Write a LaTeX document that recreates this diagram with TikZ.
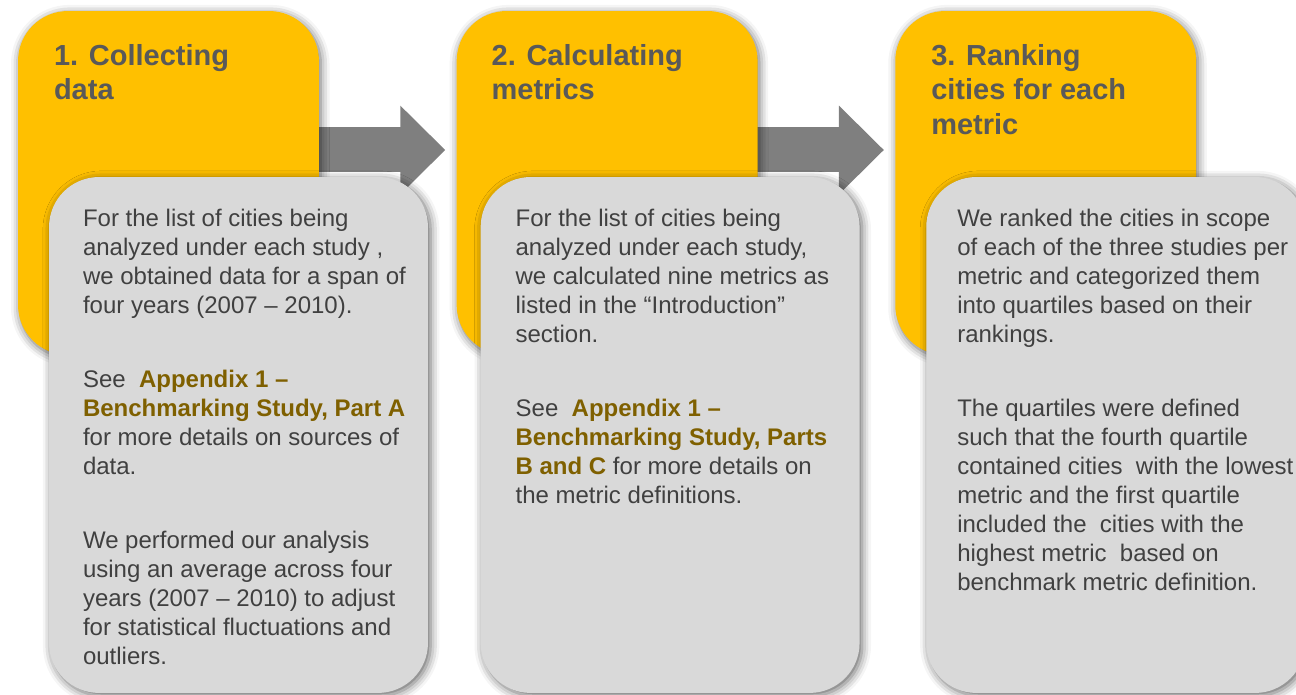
\documentclass[tikz,border=0pt]{standalone}
\usepackage{fontspec}
\setmainfont{Liberation Sans}
\usepackage{xcolor}
\definecolor{stageYellow}{HTML}{FFC000}
\definecolor{noteGrey}{HTML}{D9D9D9}
\definecolor{arrowGrey}{HTML}{7F7F7F}
\definecolor{titleGrey}{HTML}{595959}
\definecolor{bodyGrey}{HTML}{404040}
\definecolor{linkOlive}{HTML}{7F6000}
\usetikzlibrary{
  positioning,
  calc,
  arrows.meta,
  backgrounds,
  shadows.blur
}
\tikzstyle{stage}=[rounded corners=1cm, fill=stageYellow, minimum width=6.02cm, minimum height=6.88cm, inner sep=0pt,
  blur shadow={shadow xshift=1pt, shadow yshift=-1.5pt, shadow blur radius=5pt, shadow opacity=60}]
\tikzstyle{note}=[rounded corners=1cm, fill=noteGrey, minimum width=7.58cm, minimum height=10.32cm, inner sep=0pt, anchor=north west,
  blur shadow={shadow xshift=1.5pt, shadow yshift=-1.5pt, shadow blur radius=5pt, shadow opacity=60}]
\tikzstyle{stagetitle}=[anchor=north west, align=left, inner sep=0pt, text=titleGrey, font=\fontsize{16.5pt}{19.9pt}\selectfont\bfseries]
\tikzstyle{notetext}=[anchor=north west, align=left, inner sep=0pt, text=bodyGrey, font=\fontsize{13.66pt}{16.5pt}\selectfont]
\tikzstyle{flow}=[arrowGrey, line width=0.9cm, -{Triangle[length=0.9cm, width=1.72cm]}]
\newcommand{\applink}[1]{\textbf{\color{linkOlive}#1}}

\begin{document}
\begin{tikzpicture}[x=0.02cm, y=-0.02cm]
  \useasboundingbox (0,0) rectangle (1296,695);

  % 手順1
  \node[stage] (s1) at (168.5,183) {};
  \node[note] (n1) at ([shift={(31,166)}]s1.north west) {};
  \node[stagetitle] (t1) at ([shift={(36,33)}]s1.north west) {1. Collecting\\data};
  \node[notetext] (b1) at ([shift={(34,32.5)}]n1.north west) {For the list of cities being\\
    analyzed under each study ,\\
    we obtained data for a span of\\
    four years (2007 -- 2010).\\[25.5pt]
    See~ \applink{Appendix 1 --}\\
    \applink{Benchmarking Study, Part A}\\
    for more details on sources of\\
    data.\\[25.5pt]
    We performed our analysis\\
    using an average across four\\
    years (2007 -- 2010) to adjust\\
    for statistical fluctuations and\\
    outliers.};

  % 手順2
  \node[stage, right=2.74cm of s1] (s2) {};
  \node[note] (n2) at ([shift={(24,166)}]s2.north west) {};
  \node[stagetitle] (t2) at ([shift={(35,33)}]s2.north west) {2. Calculating\\metrics};
  \node[notetext] (b2) at ([shift={(35,32.5)}]n2.north west) {For the list of cities being\\
    analyzed under each study,\\
    we calculated nine metrics as\\
    listed in the ``Introduction''\\
    section.\\[25.5pt]
    See~ \applink{Appendix 1 --}\\
    \applink{Benchmarking Study, Parts}\\
    \applink{B and C} for more details on\\
    the metric definitions.};

  % 手順3
  \node[stage, right=2.74cm of s2] (s3) {};
  \node[note] (n3) at ([shift={(31,166)}]s3.north west) {};
  \node[stagetitle] (t3) at ([shift={(36,33)}]s3.north west) {3. Ranking\\cities for each\\metric};
  \node[notetext] (b3) at ([shift={(31,32.5)}]n3.north west) {We ranked the cities in scope\\
    of each of the three studies per\\
    metric and categorized them\\
    into quartiles based on their\\
    rankings.\\[25.5pt]
    The quartiles were defined\\
    such that the fourth quartile\\
    contained cities~ with the lowest\\
    metric and the first quartile\\
    included the~ cities with the\\
    highest metric~ based on\\
    benchmark metric definition.};

  % 矢印
  \begin{scope}[on background layer]
    \draw[flow] ([shift={(-20,-33)}]s1.east) -- ([shift={(-11,-33)}]s2.west);
    \draw[flow] ([shift={(-20,-33)}]s2.east) -- ([shift={(-11,-33)}]s3.west);
  \end{scope}
\end{tikzpicture}
\end{document}
